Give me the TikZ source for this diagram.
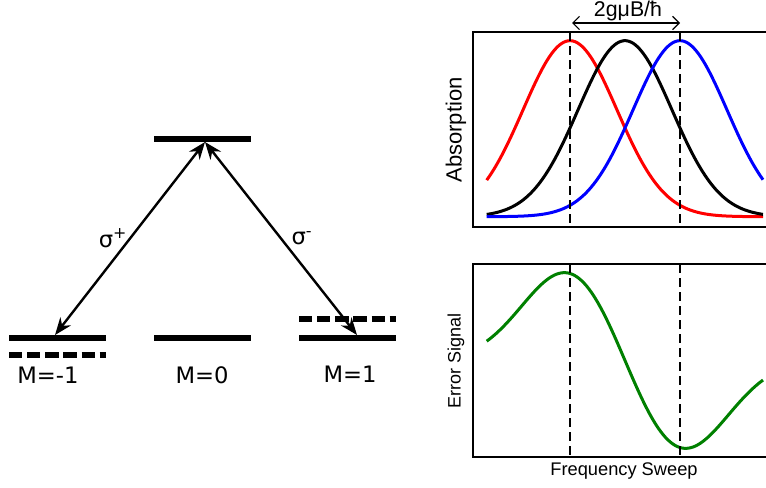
\documentclass[tikz,border=0pt]{standalone}
\usepackage{fontspec}
\setmainfont{Liberation Sans}
\newfontfamily\levelfont{DejaVu Sans}
\usetikzlibrary{arrows.meta}

\tikzset{every picture/.style={line width=0.75pt}}
\tikzset{
  level/.style={line width=4.5pt},
  shifted/.style={line width=4.5pt, dash pattern=on 10pt off 3.6pt},
  transition/.style={line width=1.8pt, {Stealth[length=13pt,width=10pt]}-{Stealth[length=13pt,width=10pt]}},
  marker/.style={line width=1.7pt, dash pattern=on 7pt off 3.5pt},
  curve/.style={line width=2.25pt, samples=120, smooth},
  levellabel/.style={font=\levelfont\fontsize{17}{20}\selectfont},
}

\begin{document}
\begin{tikzpicture}[x=0.75pt,y=0.75pt,yscale=-1,xscale=1]
\useasboundingbox (0,0) rectangle (766,487);

%Shape: Levels
\draw [level] (154,139) -- (251,139) ;
\draw [level] (9,338) -- (106,338) ;
\draw [level] (154,338) -- (251,338) ;
\draw [level] (299,338) -- (396,338) ;
\draw [shifted] (9,355) -- (106,355) ;
\draw [shifted] (299,319) -- (396,319) ;

\coordinate (excited) at (205,142);
\coordinate (minus) at (55,335);
\coordinate (plus) at (357,335);

%Shape: Transitions
\draw [transition] (excited) -- (minus) ;
\draw [transition] (excited) -- (plus) ;

% Text Node
\node [levellabel] (sigp) at (113,238) {σ\textsuperscript{+}};
% Text Node
\node [levellabel] (sigm) at (302,238) {σ\textsuperscript{-}};
% Text Node
\node [levellabel] (mm) at (48,375) {M=-1};
% Text Node
\node [levellabel] (m0) at (202,375) {M=0};
% Text Node
\node [levellabel] (mp) at (350,374) {M=1};

%Shape: Absorption axes
\draw [line width=1.1pt] (767,32) -- (473,32) -- (473,227) -- (767,227) ;
%Shape: Absorption curves
\draw [curve, red, domain=486.7:763] plot (\x, {216.7-176*exp(-0.5*((\x-570)/47)^2)}) ;
\draw [curve, black, domain=486.7:763] plot (\x, {216.7-176*exp(-0.5*((\x-625)/47)^2)}) ;
\draw [curve, blue, domain=486.7:763] plot (\x, {216.7-176*exp(-0.5*((\x-680)/47)^2)}) ;

%Shape: Error axes
\draw [line width=1.1pt] (767,264) -- (473,264) -- (473,457) -- (767,457) ;
%Shape: Error curve
\draw [curve, green!50!black, domain=486.7:763] plot (\x, {360.5-93*(exp(-0.5*((\x-570)/47)^2)-exp(-0.5*((\x-680)/47)^2))}) ;

%Shape: Markers
\draw [marker] (570,32) -- (570,227) ;
\draw [marker] (680,32) -- (680,227) ;
\draw [marker] (570,264) -- (570,457) ;
\draw [marker] (680,264) -- (680,457) ;

\coordinate (splitl) at (572,23);
\coordinate (splitr) at (680,23);
\draw [line width=0.9pt, {Straight Barb[length=5pt]}-{Straight Barb[length=5pt]}] (splitl) -- (splitr) ;

% Text Node
\node [font=\fontsize{16}{19}\selectfont] (split) at (628,11) {2gμB/ħ};
% Text Node
\node [font=\fontsize{16.5}{19}\selectfont, rotate=90] (abs) at (456,130) {Absorption};
% Text Node
\node [font=\fontsize{13.5}{16}\selectfont, rotate=90] (err) at (456,361) {Error Signal};
% Text Node
\node [font=\fontsize{13.7}{16}\selectfont] (sweep) at (624,471) {Frequency Sweep};

\end{tikzpicture}
\end{document}
